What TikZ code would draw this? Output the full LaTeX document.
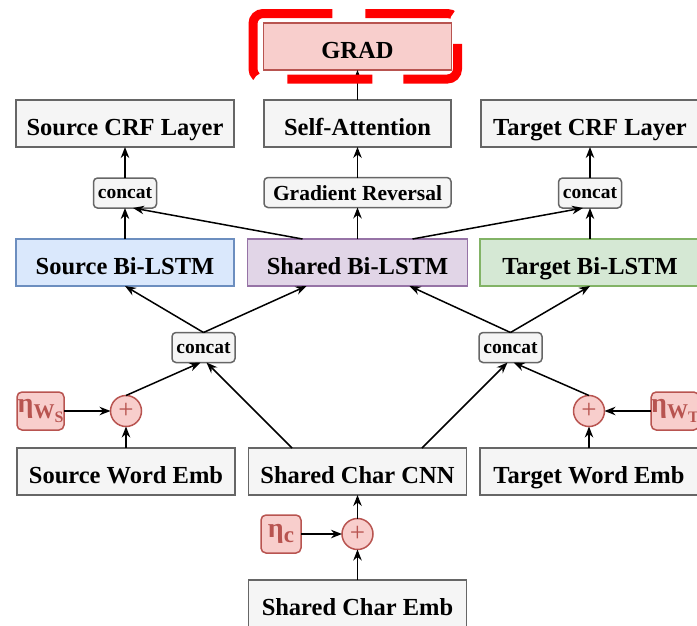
\documentclass[tikz,border=0pt]{standalone}
\usepackage{fontspec}
\setmainfont{Liberation Serif}
\usetikzlibrary{arrows.meta}

\definecolor{grayfill}{HTML}{F5F5F5}
\definecolor{grayline}{HTML}{666666}
\definecolor{bluefill}{HTML}{DAE8FC}
\definecolor{blueline}{HTML}{6C8EBF}
\definecolor{purplefill}{HTML}{E1D5E7}
\definecolor{purpleline}{HTML}{9673A6}
\definecolor{greenfill}{HTML}{D5E8D4}
\definecolor{greenline}{HTML}{82B366}
\definecolor{redfill}{HTML}{F8CECC}
\definecolor{redline}{HTML}{B85450}

\begin{document}
\begin{tikzpicture}[x=1pt, y=-1pt, >={Stealth[length=11pt,width=8.5pt]}, line width=1.5pt,
    every node/.style={font=\fontsize{24.5}{28}\selectfont\bfseries, inner sep=0pt, outer sep=0pt},
    layer/.style={draw=grayline, fill=grayfill, minimum width=218pt, minimum height=47pt, text height=23pt, text depth=0pt},
    cat/.style={draw=grayline, fill=grayfill, rounded corners=4pt, minimum width=63pt, minimum height=30pt, text height=11pt, text depth=0pt, font=\fontsize{19.5}{22}\selectfont\bfseries},
    noise/.style={draw=redline, fill=redfill, text=redline, rounded corners=5pt, minimum width=47pt, minimum height=38pt},
    plus/.style={circle, draw=redline, fill=redfill, text=redline, minimum size=31pt, font=\fontsize{27}{27}\selectfont}]
    \useasboundingbox (0,0) rectangle (697,625);
    % upper part
    \node[layer, fill=redfill, draw=redline, minimum width=188pt] (grad) at (357.5,46.5) {GRAD};
    \node[layer] (srccrf) at (125,123.5) {Source CRF Layer};
    \node[layer, minimum width=187pt] (attn) at (357.5,123.5) {Self-Attention};
    \node[layer] (tgtcrf) at (590,123.5) {Target CRF Layer};
    \node[cat] (catsrc) at (125,193) {concat};
    \node[cat, minimum width=187pt, text height=15pt, font=\fontsize{21.5}{24}\selectfont\bfseries] (grl) at (357.5,192.5) {Gradient Reversal};
    \node[cat] (cattgt) at (590,193) {concat};
    \node[layer, fill=bluefill, draw=blueline] (srclstm) at (125,262.5) {Source Bi-LSTM};
    \node[layer, fill=purplefill, draw=purpleline, minimum width=220pt] (shlstm) at (357.5,262.5) {Shared Bi-LSTM};
    \node[layer, fill=greenfill, draw=greenline, minimum width=220pt] (tgtlstm) at (590,262.5) {Target Bi-LSTM};
    % lower part
    \node[cat] (catl) at (203.5,347.5) {concat};
    \node[cat] (catr) at (510.5,347.5) {concat};
    \node[noise] (etas) at (40.5,411) {{\fontsize{28}{28}\selectfont η}\raisebox{-6pt}{\fontsize{21}{21}\selectfont W\raisebox{-4pt}{\fontsize{16}{16}\selectfont S}}};
    \node[plus] (pluss) at (126,411) {+};
    \node[plus] (plust) at (589,411) {+};
    \node[noise] (etat) at (675,411) {{\fontsize{28}{28}\selectfont η}\raisebox{-6pt}{\fontsize{21}{21}\selectfont W\raisebox{-4pt}{\fontsize{16}{16}\selectfont T}}};
    \node[layer] (srcword) at (126,471.5) {Source Word Emb};
    \node[layer] (charcnn) at (357.5,471.5) {Shared Char CNN};
    \node[layer] (tgtword) at (589,471.5) {Target Word Emb};
    \node[noise, minimum width=40pt] (etac) at (281,534) {{\fontsize{28}{28}\selectfont η}\raisebox{-5pt}{\fontsize{23}{23}\selectfont c}};
    \node[plus] (plusc) at (357.5,534) {+};
    \node[layer] (charemb) at (357.5,603.5) {Shared Char Emb};

    \draw[->] (charemb) -- (plusc);
    \draw[->] (etac) -- (plusc);
    \draw[->] (plusc) -- (charcnn);
    \draw[->] (srcword) -- (pluss);
    \draw[->] (etas) -- (pluss);
    \draw[->] (tgtword) -- (plust);
    \draw[->] (etat) -- (plust);
    \draw[->] (pluss.north) -- ([xshift=-3pt]catl.south);
    \draw[->] ([xshift=-65.5pt]charcnn.north) -- ([xshift=3pt]catl.south);
    \draw[->] ([xshift=64.5pt]charcnn.north) -- ([xshift=-3pt]catr.south);
    \draw[->] (plust.north) -- ([xshift=3pt]catr.south);
    \draw[->] (catl.north) -- (srclstm.south);
    \draw[->] (catl.north) -- ([xshift=-51pt]shlstm.south);
    \draw[->] (catr.north) -- ([xshift=52pt]shlstm.south);
    \draw[->] (catr.north) -- (tgtlstm.south);
    \draw[->] (srclstm) -- (catsrc);
    \draw[->] ([xshift=-55pt]shlstm.north) -- ([xshift=8pt]catsrc.south);
    \draw[->] (shlstm) -- (grl);
    \draw[->] ([xshift=55pt]shlstm.north) -- ([xshift=-7pt]cattgt.south);
    \draw[->] (tgtlstm) -- (cattgt);
    \draw[->] (catsrc) -- (srccrf);
    \draw[->] (grl) -- (attn);
    \draw[->] (cattgt) -- (tgtcrf);
    \draw[->] (attn) -- (grad);
    % highlight round GRAD
    \draw[red, line width=9pt, rounded corners=10pt, dash pattern=on 138pt off 32pt on 85pt off 31pt on 85pt off 31pt on 87pt off 33pt]
        (332,13.5) -- (253,13.5) -- (253,79) -- (457.5,79) -- (457.5,13.5) -- (332,13.5);
\end{tikzpicture}
\end{document}
